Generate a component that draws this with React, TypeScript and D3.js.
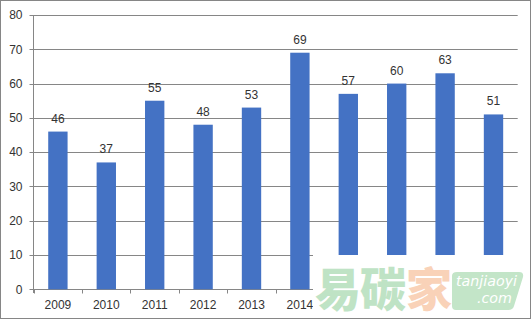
import React from "react";
import * as d3 from "d3";

const categories = ["2009", "2010", "2011", "2012", "2013", "2014", "2015", "2016", "2017", "2018"];
const values = [46, 37, 55, 48, 53, 69, 57, 60, 63, 51];
const yTicks = [0, 10, 20, 30, 40, 50, 60, 70, 80];
// category labels of the last four bars are hidden behind the watermark in the reference
const visibleLabelCount = 6;

const W = 532;
const H = 320;
const left = 33.7;
const right = 517.7;
const top = 15;
const bottom = 289.3;
const font = "'Liberation Sans', Arial, sans-serif";
const textColor = "#333";
const gridColor = "#868686";

export default function App() {
  const x = d3.scaleBand<string>().domain(categories).range([left, right]).paddingInner(0.6).paddingOuter(0.3);
  const y = d3.scaleLinear().domain([0, 80]).range([bottom, top]);
  const step = x.step();
  const off = (step - x.bandwidth()) / 2;
  const boundaries = categories.map((c) => (x(c) as number) - off).concat([right]);

  return (
    <svg width={W} height={H} style={{ position: "absolute", left: 0, top: 0, background: "#fff" }}>
      <defs>
        <clipPath id="labelClip">
          <rect x={0} y={0} width={313} height={H} />
        </clipPath>
      </defs>
      <rect x={0} y={0} width={W} height={H} fill="#fff" />
      <rect x={0.5} y={0.5} width={530} height={318} fill="none" stroke={gridColor} strokeWidth={1} />
      {yTicks.map((t) => (
        <g key={t}>
          <line x1={29.5} x2={right} y1={Math.round(y(t)) + 0.5} y2={Math.round(y(t)) + 0.5} stroke={gridColor} strokeWidth={1} />
          <text x={22.5} y={y(t) + 4.3} textAnchor="end" fontFamily={font} fontSize={12} fill={textColor}>
            {t}
          </text>
        </g>
      ))}
      <line x1={33.5} x2={33.5} y1={top} y2={293} stroke={gridColor} strokeWidth={1} />
      {boundaries.map((b, i) => (
        <line key={i} x1={Math.round(b) + 0.5} x2={Math.round(b) + 0.5} y1={bottom} y2={293.5} stroke={gridColor} strokeWidth={1} />
      ))}
      {categories.map((c, i) => (
        <g key={c}>
          <rect x={x(c)} y={y(values[i])} width={x.bandwidth()} height={y(0) - y(values[i])} fill="#4472C4" />
          <text x={(x(c) as number) + x.bandwidth() / 2} y={y(values[i]) - 9} textAnchor="middle" fontFamily={font} fontSize={12} fill={textColor}>
            {values[i]}
          </text>
          {i < visibleLabelCount && (
            <text clipPath="url(#labelClip)" x={(x(c) as number) + x.bandwidth() / 2} y={309} textAnchor="middle" fontFamily={font} fontSize={12} fill={textColor}>
              {c}
            </text>
          )}
        </g>
      ))}
      {/* watermark */}
      <rect x={313} y={255} width={217} height={63} fill="#fff" />
      <text x={315} y={306} fontFamily="'Noto Sans CJK SC'" fontWeight={900} fontSize={46} fill="#bfe3c5">易</text>
      <text x={360} y={306} fontFamily="'Noto Sans CJK SC'" fontWeight={900} fontSize={46} fill="#bfe3c5">碳</text>
      <text x={406} y={306} fontFamily="'Noto Sans CJK SC'" fontWeight={900} fontSize={46} fill="#f9d2b8">家</text>
      <path d="M457,272 H519 Q524,272 523,277 L514,306 Q513,310 508,310 H456 Q452,310 452,306 V276 Q452,272 457,272 Z" fill="#c3e5c8" />
      <text x={456} y={286} fontFamily="'DejaVu Sans', sans-serif" fontStyle="italic" fontSize={14} fill="#fff" textLength={61} lengthAdjust="spacingAndGlyphs">tanjiaoyi</text>
      <text x={477} y={303} fontFamily="'DejaVu Sans', sans-serif" fontStyle="italic" fontSize={14} fill="#fff" textLength={35} lengthAdjust="spacingAndGlyphs">.com</text>
    </svg>
  );
}
